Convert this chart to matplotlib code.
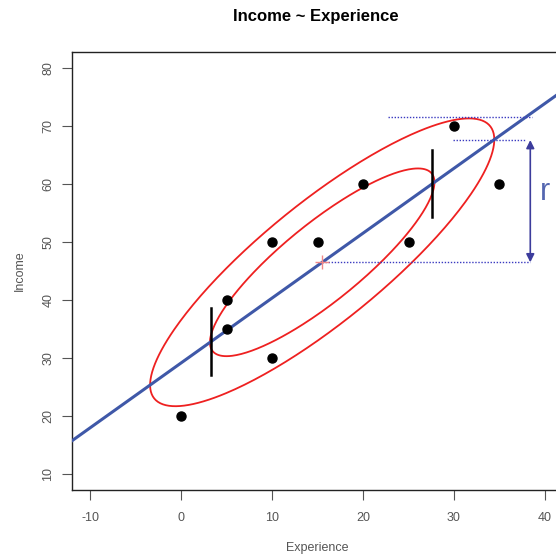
import numpy as np
import matplotlib
matplotlib.use('Agg')
import matplotlib.pyplot as plt

matplotlib.rcParams['font.family'] = ['Liberation Sans', 'DejaVu Sans']
matplotlib.rcParams['axes.unicode_minus'] = False

# data points
experience = np.array([0, 5, 5, 10, 10, 15, 20, 25, 30, 35])
income = np.array([20, 35, 40, 50, 30, 50, 60, 50, 70, 60])

# ellipse sizes (in sd units)
ellipse_radius = [1.06, 1.625]

# annotation marks
tangent_x = [3.3, 27.6]
tangent_half = 5.8
guide_y = [71.6, 67.6, 46.5]
guide_x0 = [22.7, 29.9, 15.5]
guide_x1 = [38.6, 37.8, 38.4]
arrow_x = 38.4
arrow_y = [46.5, 67.6]

x_ticks = [-10, 0, 10, 20, 30, 40]
y_ticks = [10, 20, 30, 40, 50, 60, 70, 80]

blue = '#3f58a8'
red = '#ee2020'
tick_color = '#555555'

fig = plt.figure(figsize=(5.56, 5.59), dpi=100)
ax = fig.add_axes([72.3/556, 69/559, (563-72.3)/556, 438/559])

# regression line
slope, intercept = np.polyfit(experience, income, 1)
xx = np.array([-12, 42])
ax.plot(xx, intercept + slope*xx, color=blue, lw=2.2, zorder=3)

# data ellipses
mx, my = experience.mean(), income.mean()
cov = np.cov(experience, income)
L = np.linalg.cholesky(cov)
t = np.linspace(0, 2*np.pi, 300)
circ = np.vstack([np.cos(t), np.sin(t)])
for r in ellipse_radius:
  pts = L @ circ * r
  ax.plot(mx + pts[0], my + pts[1], color=red, lw=1.3, zorder=2)

ax.plot(experience, income, 'o', color='black', ms=6.5, zorder=4)
ax.plot(mx, my, '+', color='#f08888', ms=10, mew=1.0, zorder=5)

for tx in tangent_x:
  yc = intercept + slope*tx
  ax.plot([tx, tx], [yc - tangent_half, yc + tangent_half], color='black', lw=1.8, zorder=4)

for gy, g0, g1 in zip(guide_y, guide_x0, guide_x1):
  ax.plot([g0, g1], [gy, gy], color='#3a3ac0', lw=1.0, ls=(0, (1, 1.2)), zorder=3)

ax.annotate('', xy=(arrow_x, arrow_y[1]), xytext=(arrow_x, arrow_y[0]),
            arrowprops=dict(arrowstyle='<|-|>', color='#3c3c9c', lw=1.2,
                            mutation_scale=12, shrinkA=0, shrinkB=0), zorder=4)
ax.text(40.0, 58.6, 'r', color='#5466b0', fontsize=22, ha='center', va='center')

ax.set_xlim(-12, 42)
ax.set_ylim(7.2, 82.8)
ax.set_xticks(x_ticks)
ax.set_yticks(y_ticks)
ax.set_yticklabels([str(v) for v in y_ticks], rotation=90, va='center')
ax.tick_params(axis='both', direction='out', length=7, width=0.8, color=tick_color,
               labelcolor=tick_color, labelsize=9)
ax.tick_params(axis='x', pad=9)
ax.tick_params(axis='y', pad=6)
for sp in ax.spines.values():
  sp.set_linewidth(1.0)
  sp.set_color('#222222')

ax.set_xlabel('Experience', fontsize=9, color=tick_color, labelpad=13)
ax.set_ylabel('Income', fontsize=9, color=tick_color, labelpad=12)
fig.text(316/556, 1 - 17/559, 'Income ~ Experience', ha='center', va='center',
         fontsize=12, fontweight='bold')

fig.savefig('out.png', dpi=100)
